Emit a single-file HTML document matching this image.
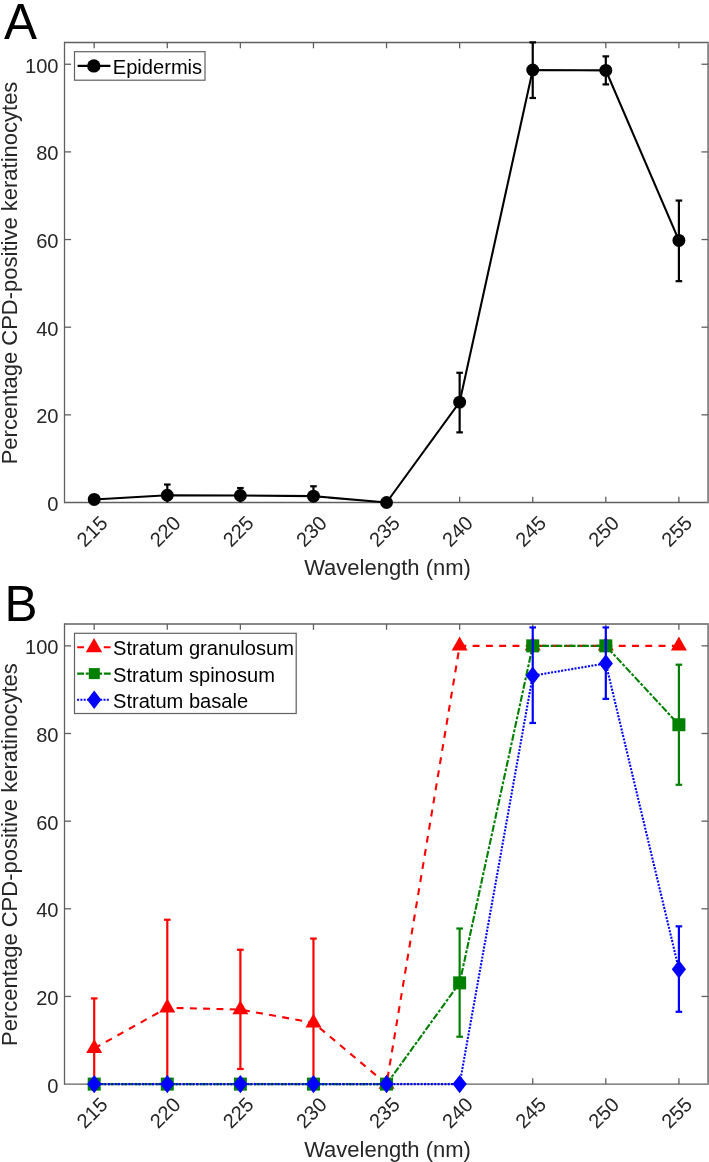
<!DOCTYPE html><html><head><meta charset="utf-8"><style>html,body{margin:0;padding:0;background:#fff;width:709px;height:1162px;overflow:hidden}svg{display:block;will-change:transform;filter:blur(0.3px)}text{font-family:"Liberation Sans",sans-serif;fill:#262626}.t{font-size:20.1px}.l{font-size:22.0px}.p{font-size:49.5px;fill:#000}.k{fill:#000}</style></head><body>
<svg width="709" height="1162" viewBox="0 0 709 1162">
<text x="3.9" y="39.3" class="p">A</text>
<text x="4.6" y="620.6" class="p">B</text>
<line x1="64.5" y1="42.5" x2="708.1" y2="42.5" stroke="#606060" stroke-width="1.3"/>
<line x1="64.5" y1="502.5" x2="708.1" y2="502.5" stroke="#606060" stroke-width="1.3"/>
<line x1="64.5" y1="41.85" x2="64.5" y2="503.15" stroke="#606060" stroke-width="1.3"/>
<line x1="708.1" y1="41.85" x2="708.1" y2="503.15" stroke="#858585" stroke-width="1.8"/>
<line x1="94.20" y1="502.5" x2="94.20" y2="496.7" stroke="#606060" stroke-width="1.3"/>
<line x1="94.20" y1="42.5" x2="94.20" y2="48.3" stroke="#606060" stroke-width="1.3"/>
<line x1="167.29" y1="502.5" x2="167.29" y2="496.7" stroke="#606060" stroke-width="1.3"/>
<line x1="167.29" y1="42.5" x2="167.29" y2="48.3" stroke="#606060" stroke-width="1.3"/>
<line x1="240.38" y1="502.5" x2="240.38" y2="496.7" stroke="#606060" stroke-width="1.3"/>
<line x1="240.38" y1="42.5" x2="240.38" y2="48.3" stroke="#606060" stroke-width="1.3"/>
<line x1="313.46" y1="502.5" x2="313.46" y2="496.7" stroke="#606060" stroke-width="1.3"/>
<line x1="313.46" y1="42.5" x2="313.46" y2="48.3" stroke="#606060" stroke-width="1.3"/>
<line x1="386.55" y1="502.5" x2="386.55" y2="496.7" stroke="#606060" stroke-width="1.3"/>
<line x1="386.55" y1="42.5" x2="386.55" y2="48.3" stroke="#606060" stroke-width="1.3"/>
<line x1="459.64" y1="502.5" x2="459.64" y2="496.7" stroke="#606060" stroke-width="1.3"/>
<line x1="459.64" y1="42.5" x2="459.64" y2="48.3" stroke="#606060" stroke-width="1.3"/>
<line x1="532.73" y1="502.5" x2="532.73" y2="496.7" stroke="#606060" stroke-width="1.3"/>
<line x1="532.73" y1="42.5" x2="532.73" y2="48.3" stroke="#606060" stroke-width="1.3"/>
<line x1="605.81" y1="502.5" x2="605.81" y2="496.7" stroke="#606060" stroke-width="1.3"/>
<line x1="605.81" y1="42.5" x2="605.81" y2="48.3" stroke="#606060" stroke-width="1.3"/>
<line x1="678.90" y1="502.5" x2="678.90" y2="496.7" stroke="#606060" stroke-width="1.3"/>
<line x1="678.90" y1="42.5" x2="678.90" y2="48.3" stroke="#606060" stroke-width="1.3"/>
<line x1="64.5" y1="414.85" x2="71.1" y2="414.85" stroke="#606060" stroke-width="1.3"/>
<line x1="708.1" y1="414.85" x2="701.5" y2="414.85" stroke="#606060" stroke-width="1.3"/>
<line x1="64.5" y1="327.20" x2="71.1" y2="327.20" stroke="#606060" stroke-width="1.3"/>
<line x1="708.1" y1="327.20" x2="701.5" y2="327.20" stroke="#606060" stroke-width="1.3"/>
<line x1="64.5" y1="239.55" x2="71.1" y2="239.55" stroke="#606060" stroke-width="1.3"/>
<line x1="708.1" y1="239.55" x2="701.5" y2="239.55" stroke="#606060" stroke-width="1.3"/>
<line x1="64.5" y1="151.90" x2="71.1" y2="151.90" stroke="#606060" stroke-width="1.3"/>
<line x1="708.1" y1="151.90" x2="701.5" y2="151.90" stroke="#606060" stroke-width="1.3"/>
<line x1="64.5" y1="64.25" x2="71.1" y2="64.25" stroke="#606060" stroke-width="1.3"/>
<line x1="708.1" y1="64.25" x2="701.5" y2="64.25" stroke="#606060" stroke-width="1.3"/>
<text x="58.5" y="511.00" text-anchor="end" class="t">0</text>
<text x="58.5" y="423.35" text-anchor="end" class="t">20</text>
<text x="58.5" y="335.70" text-anchor="end" class="t">40</text>
<text x="58.5" y="248.05" text-anchor="end" class="t">60</text>
<text x="58.5" y="160.40" text-anchor="end" class="t">80</text>
<text x="58.5" y="72.75" text-anchor="end" class="t">100</text>
<text x="0" y="0" text-anchor="end" dy="0.36em" class="t" transform="translate(103.70,519.10) rotate(-45)">215</text>
<text x="0" y="0" text-anchor="end" dy="0.36em" class="t" transform="translate(176.79,519.10) rotate(-45)">220</text>
<text x="0" y="0" text-anchor="end" dy="0.36em" class="t" transform="translate(249.88,519.10) rotate(-45)">225</text>
<text x="0" y="0" text-anchor="end" dy="0.36em" class="t" transform="translate(322.96,519.10) rotate(-45)">230</text>
<text x="0" y="0" text-anchor="end" dy="0.36em" class="t" transform="translate(396.05,519.10) rotate(-45)">235</text>
<text x="0" y="0" text-anchor="end" dy="0.36em" class="t" transform="translate(469.14,519.10) rotate(-45)">240</text>
<text x="0" y="0" text-anchor="end" dy="0.36em" class="t" transform="translate(542.23,519.10) rotate(-45)">245</text>
<text x="0" y="0" text-anchor="end" dy="0.36em" class="t" transform="translate(615.31,519.10) rotate(-45)">250</text>
<text x="0" y="0" text-anchor="end" dy="0.36em" class="t" transform="translate(688.40,519.10) rotate(-45)">255</text>
<text x="387.50" y="575.30" text-anchor="middle" class="l">Wavelength (nm)</text>
<text x="0" y="0" text-anchor="middle" class="l" transform="translate(16.6,273.00) rotate(-90)">Percentage CPD-positive keratinocytes</text>
<line x1="64.5" y1="624.0" x2="708.1" y2="624.0" stroke="#606060" stroke-width="1.3"/>
<line x1="64.5" y1="1084.1" x2="708.1" y2="1084.1" stroke="#606060" stroke-width="1.3"/>
<line x1="64.5" y1="623.35" x2="64.5" y2="1084.75" stroke="#606060" stroke-width="1.3"/>
<line x1="708.1" y1="623.35" x2="708.1" y2="1084.75" stroke="#858585" stroke-width="1.8"/>
<line x1="94.20" y1="1084.1" x2="94.20" y2="1078.3" stroke="#606060" stroke-width="1.3"/>
<line x1="94.20" y1="624.0" x2="94.20" y2="629.8" stroke="#606060" stroke-width="1.3"/>
<line x1="167.29" y1="1084.1" x2="167.29" y2="1078.3" stroke="#606060" stroke-width="1.3"/>
<line x1="167.29" y1="624.0" x2="167.29" y2="629.8" stroke="#606060" stroke-width="1.3"/>
<line x1="240.38" y1="1084.1" x2="240.38" y2="1078.3" stroke="#606060" stroke-width="1.3"/>
<line x1="240.38" y1="624.0" x2="240.38" y2="629.8" stroke="#606060" stroke-width="1.3"/>
<line x1="313.46" y1="1084.1" x2="313.46" y2="1078.3" stroke="#606060" stroke-width="1.3"/>
<line x1="313.46" y1="624.0" x2="313.46" y2="629.8" stroke="#606060" stroke-width="1.3"/>
<line x1="386.55" y1="1084.1" x2="386.55" y2="1078.3" stroke="#606060" stroke-width="1.3"/>
<line x1="386.55" y1="624.0" x2="386.55" y2="629.8" stroke="#606060" stroke-width="1.3"/>
<line x1="459.64" y1="1084.1" x2="459.64" y2="1078.3" stroke="#606060" stroke-width="1.3"/>
<line x1="459.64" y1="624.0" x2="459.64" y2="629.8" stroke="#606060" stroke-width="1.3"/>
<line x1="532.73" y1="1084.1" x2="532.73" y2="1078.3" stroke="#606060" stroke-width="1.3"/>
<line x1="532.73" y1="624.0" x2="532.73" y2="629.8" stroke="#606060" stroke-width="1.3"/>
<line x1="605.81" y1="1084.1" x2="605.81" y2="1078.3" stroke="#606060" stroke-width="1.3"/>
<line x1="605.81" y1="624.0" x2="605.81" y2="629.8" stroke="#606060" stroke-width="1.3"/>
<line x1="678.90" y1="1084.1" x2="678.90" y2="1078.3" stroke="#606060" stroke-width="1.3"/>
<line x1="678.90" y1="624.0" x2="678.90" y2="629.8" stroke="#606060" stroke-width="1.3"/>
<line x1="64.5" y1="996.45" x2="71.1" y2="996.45" stroke="#606060" stroke-width="1.3"/>
<line x1="708.1" y1="996.45" x2="701.5" y2="996.45" stroke="#606060" stroke-width="1.3"/>
<line x1="64.5" y1="908.80" x2="71.1" y2="908.80" stroke="#606060" stroke-width="1.3"/>
<line x1="708.1" y1="908.80" x2="701.5" y2="908.80" stroke="#606060" stroke-width="1.3"/>
<line x1="64.5" y1="821.15" x2="71.1" y2="821.15" stroke="#606060" stroke-width="1.3"/>
<line x1="708.1" y1="821.15" x2="701.5" y2="821.15" stroke="#606060" stroke-width="1.3"/>
<line x1="64.5" y1="733.50" x2="71.1" y2="733.50" stroke="#606060" stroke-width="1.3"/>
<line x1="708.1" y1="733.50" x2="701.5" y2="733.50" stroke="#606060" stroke-width="1.3"/>
<line x1="64.5" y1="645.85" x2="71.1" y2="645.85" stroke="#606060" stroke-width="1.3"/>
<line x1="708.1" y1="645.85" x2="701.5" y2="645.85" stroke="#606060" stroke-width="1.3"/>
<text x="58.5" y="1092.60" text-anchor="end" class="t">0</text>
<text x="58.5" y="1004.95" text-anchor="end" class="t">20</text>
<text x="58.5" y="917.30" text-anchor="end" class="t">40</text>
<text x="58.5" y="829.65" text-anchor="end" class="t">60</text>
<text x="58.5" y="742.00" text-anchor="end" class="t">80</text>
<text x="58.5" y="654.35" text-anchor="end" class="t">100</text>
<text x="0" y="0" text-anchor="end" dy="0.36em" class="t" transform="translate(103.70,1100.70) rotate(-45)">215</text>
<text x="0" y="0" text-anchor="end" dy="0.36em" class="t" transform="translate(176.79,1100.70) rotate(-45)">220</text>
<text x="0" y="0" text-anchor="end" dy="0.36em" class="t" transform="translate(249.88,1100.70) rotate(-45)">225</text>
<text x="0" y="0" text-anchor="end" dy="0.36em" class="t" transform="translate(322.96,1100.70) rotate(-45)">230</text>
<text x="0" y="0" text-anchor="end" dy="0.36em" class="t" transform="translate(396.05,1100.70) rotate(-45)">235</text>
<text x="0" y="0" text-anchor="end" dy="0.36em" class="t" transform="translate(469.14,1100.70) rotate(-45)">240</text>
<text x="0" y="0" text-anchor="end" dy="0.36em" class="t" transform="translate(542.23,1100.70) rotate(-45)">245</text>
<text x="0" y="0" text-anchor="end" dy="0.36em" class="t" transform="translate(615.31,1100.70) rotate(-45)">250</text>
<text x="0" y="0" text-anchor="end" dy="0.36em" class="t" transform="translate(688.40,1100.70) rotate(-45)">255</text>
<text x="387.50" y="1156.90" text-anchor="middle" class="l">Wavelength (nm)</text>
<text x="0" y="0" text-anchor="middle" class="l" transform="translate(16.6,854.55) rotate(-90)">Percentage CPD-positive keratinocytes</text>
<polyline points="94.20,499.43 167.29,495.31 240.38,495.49 313.46,496.15 386.55,502.50 459.64,402.14 532.73,69.95 605.81,70.39 678.90,240.43" fill="none" stroke="#000" stroke-width="2.1"/>
<line x1="167.29" y1="484.53" x2="167.29" y2="502.50" stroke="#000" stroke-width="2.2"/>
<line x1="163.99" y1="484.53" x2="170.59" y2="484.53" stroke="#000" stroke-width="2.2"/>
<line x1="240.38" y1="488.04" x2="240.38" y2="502.50" stroke="#000" stroke-width="2.2"/>
<line x1="237.07" y1="488.04" x2="243.68" y2="488.04" stroke="#000" stroke-width="2.2"/>
<line x1="313.46" y1="486.28" x2="313.46" y2="502.50" stroke="#000" stroke-width="2.2"/>
<line x1="310.16" y1="486.28" x2="316.76" y2="486.28" stroke="#000" stroke-width="2.2"/>
<line x1="459.64" y1="372.78" x2="459.64" y2="432.38" stroke="#000" stroke-width="2.2"/>
<line x1="456.34" y1="372.78" x2="462.94" y2="372.78" stroke="#000" stroke-width="2.2"/>
<line x1="456.34" y1="432.38" x2="462.94" y2="432.38" stroke="#000" stroke-width="2.2"/>
<line x1="532.73" y1="42.50" x2="532.73" y2="98.00" stroke="#000" stroke-width="2.2"/>
<line x1="529.43" y1="42.34" x2="536.02" y2="42.34" stroke="#000" stroke-width="2.2"/>
<line x1="529.43" y1="98.00" x2="536.02" y2="98.00" stroke="#000" stroke-width="2.2"/>
<line x1="605.81" y1="56.36" x2="605.81" y2="84.41" stroke="#000" stroke-width="2.2"/>
<line x1="602.51" y1="56.36" x2="609.11" y2="56.36" stroke="#000" stroke-width="2.2"/>
<line x1="602.51" y1="84.41" x2="609.11" y2="84.41" stroke="#000" stroke-width="2.2"/>
<line x1="678.90" y1="200.55" x2="678.90" y2="281.18" stroke="#000" stroke-width="2.2"/>
<line x1="675.60" y1="200.55" x2="682.20" y2="200.55" stroke="#000" stroke-width="2.2"/>
<line x1="675.60" y1="281.18" x2="682.20" y2="281.18" stroke="#000" stroke-width="2.2"/>
<circle cx="94.20" cy="499.43" r="6.45" fill="#000"/>
<circle cx="167.29" cy="495.31" r="6.45" fill="#000"/>
<circle cx="240.38" cy="495.49" r="6.45" fill="#000"/>
<circle cx="313.46" cy="496.15" r="6.45" fill="#000"/>
<circle cx="386.55" cy="502.50" r="6.45" fill="#000"/>
<circle cx="459.64" cy="402.14" r="6.45" fill="#000"/>
<circle cx="532.73" cy="69.95" r="6.45" fill="#000"/>
<circle cx="605.81" cy="70.39" r="6.45" fill="#000"/>
<circle cx="678.90" cy="240.43" r="6.45" fill="#000"/>
<polyline points="94.20,1048.38 167.29,1007.71 240.38,1009.60 313.46,1022.74 386.55,1084.10 459.64,645.85 532.73,645.85 605.81,645.85 678.90,645.85" fill="none" stroke="#ff0000" stroke-width="2.1" stroke-dasharray="6.9 6.384"/>
<line x1="94.20" y1="998.42" x2="94.20" y2="1084.10" stroke="#ff0000" stroke-width="2.2"/>
<line x1="90.90" y1="998.42" x2="97.50" y2="998.42" stroke="#ff0000" stroke-width="2.2"/>
<line x1="167.29" y1="919.76" x2="167.29" y2="1084.10" stroke="#ff0000" stroke-width="2.2"/>
<line x1="163.99" y1="919.76" x2="170.59" y2="919.76" stroke="#ff0000" stroke-width="2.2"/>
<line x1="240.38" y1="949.78" x2="240.38" y2="1068.98" stroke="#ff0000" stroke-width="2.2"/>
<line x1="237.07" y1="949.78" x2="243.68" y2="949.78" stroke="#ff0000" stroke-width="2.2"/>
<line x1="237.07" y1="1068.98" x2="243.68" y2="1068.98" stroke="#ff0000" stroke-width="2.2"/>
<line x1="313.46" y1="938.60" x2="313.46" y2="1084.10" stroke="#ff0000" stroke-width="2.2"/>
<line x1="310.16" y1="938.60" x2="316.76" y2="938.60" stroke="#ff0000" stroke-width="2.2"/>
<polygon points="94.20,1039.05 86.20,1053.05 102.20,1053.05" fill="#ff0000"/>
<polygon points="167.29,998.38 159.29,1012.38 175.29,1012.38" fill="#ff0000"/>
<polygon points="240.38,1000.26 232.38,1014.26 248.38,1014.26" fill="#ff0000"/>
<polygon points="313.46,1013.41 305.46,1027.41 321.46,1027.41" fill="#ff0000"/>
<polygon points="386.55,1074.77 378.55,1088.77 394.55,1088.77" fill="#ff0000"/>
<polygon points="459.64,636.52 451.64,650.52 467.64,650.52" fill="#ff0000"/>
<polygon points="532.73,636.52 524.73,650.52 540.73,650.52" fill="#ff0000"/>
<polygon points="605.81,636.52 597.81,650.52 613.81,650.52" fill="#ff0000"/>
<polygon points="678.90,636.52 670.90,650.52 686.90,650.52" fill="#ff0000"/>
<polyline points="94.20,1084.10 167.29,1084.10 240.38,1084.10 313.46,1084.10 386.55,1084.10 459.64,982.86 532.73,645.85 605.81,645.85 678.90,724.73" fill="none" stroke="#008000" stroke-width="2.1" stroke-dasharray="6.9 1.7 3 1.7"/>
<line x1="459.64" y1="928.52" x2="459.64" y2="1036.77" stroke="#008000" stroke-width="2.2"/>
<line x1="456.34" y1="928.52" x2="462.94" y2="928.52" stroke="#008000" stroke-width="2.2"/>
<line x1="456.34" y1="1036.77" x2="462.94" y2="1036.77" stroke="#008000" stroke-width="2.2"/>
<line x1="678.90" y1="664.69" x2="678.90" y2="784.78" stroke="#008000" stroke-width="2.2"/>
<line x1="675.60" y1="664.69" x2="682.20" y2="664.69" stroke="#008000" stroke-width="2.2"/>
<line x1="675.60" y1="784.78" x2="682.20" y2="784.78" stroke="#008000" stroke-width="2.2"/>
<rect x="87.70" y="1077.60" width="13" height="13" fill="#008000"/>
<rect x="160.79" y="1077.60" width="13" height="13" fill="#008000"/>
<rect x="233.88" y="1077.60" width="13" height="13" fill="#008000"/>
<rect x="306.96" y="1077.60" width="13" height="13" fill="#008000"/>
<rect x="380.05" y="1077.60" width="13" height="13" fill="#008000"/>
<rect x="453.14" y="976.36" width="13" height="13" fill="#008000"/>
<rect x="526.23" y="639.35" width="13" height="13" fill="#008000"/>
<rect x="599.31" y="639.35" width="13" height="13" fill="#008000"/>
<rect x="672.40" y="718.23" width="13" height="13" fill="#008000"/>
<polyline points="94.20,1084.10 167.29,1084.10 240.38,1084.10 313.46,1084.10 386.55,1084.10 459.64,1084.10 532.73,675.65 605.81,663.38 678.90,969.28" fill="none" stroke="#0000ff" stroke-width="2.1" stroke-dasharray="2 1.4"/>
<line x1="532.73" y1="627.44" x2="532.73" y2="722.98" stroke="#0000ff" stroke-width="2.2"/>
<line x1="529.43" y1="627.44" x2="536.02" y2="627.44" stroke="#0000ff" stroke-width="2.2"/>
<line x1="529.43" y1="722.98" x2="536.02" y2="722.98" stroke="#0000ff" stroke-width="2.2"/>
<line x1="605.81" y1="627.44" x2="605.81" y2="698.88" stroke="#0000ff" stroke-width="2.2"/>
<line x1="602.51" y1="627.44" x2="609.11" y2="627.44" stroke="#0000ff" stroke-width="2.2"/>
<line x1="602.51" y1="698.88" x2="609.11" y2="698.88" stroke="#0000ff" stroke-width="2.2"/>
<line x1="678.90" y1="926.33" x2="678.90" y2="1011.79" stroke="#0000ff" stroke-width="2.2"/>
<line x1="675.60" y1="926.33" x2="682.20" y2="926.33" stroke="#0000ff" stroke-width="2.2"/>
<line x1="675.60" y1="1011.79" x2="682.20" y2="1011.79" stroke="#0000ff" stroke-width="2.2"/>
<polygon points="94.20,1074.90 101.30,1084.10 94.20,1093.30 87.10,1084.10" fill="#0000ff"/>
<polygon points="167.29,1074.90 174.39,1084.10 167.29,1093.30 160.19,1084.10" fill="#0000ff"/>
<polygon points="240.38,1074.90 247.47,1084.10 240.38,1093.30 233.28,1084.10" fill="#0000ff"/>
<polygon points="313.46,1074.90 320.56,1084.10 313.46,1093.30 306.36,1084.10" fill="#0000ff"/>
<polygon points="386.55,1074.90 393.65,1084.10 386.55,1093.30 379.45,1084.10" fill="#0000ff"/>
<polygon points="459.64,1074.90 466.74,1084.10 459.64,1093.30 452.54,1084.10" fill="#0000ff"/>
<polygon points="532.73,666.45 539.83,675.65 532.73,684.85 525.62,675.65" fill="#0000ff"/>
<polygon points="605.81,654.18 612.91,663.38 605.81,672.58 598.71,663.38" fill="#0000ff"/>
<polygon points="678.90,960.08 686.00,969.28 678.90,978.48 671.80,969.28" fill="#0000ff"/>
<rect x="74.5" y="51.7" width="130.5" height="28.5" fill="#fff" stroke="#606060" stroke-width="1.2"/>
<line x1="77.6" y1="65.9" x2="110.4" y2="65.9" stroke="#000" stroke-width="2.1"/>
<circle cx="93.80" cy="65.90" r="6.7" fill="#000"/>
<text x="112.8" y="73.9" class="t k">Epidermis</text>
<rect x="74.5" y="633.3" width="221.7" height="80.2" fill="#fff" stroke="#606060" stroke-width="1.2"/>
<line x1="77.2" y1="647.3" x2="110.9" y2="647.3" stroke="#ff0000" stroke-width="2.1" stroke-dasharray="6.8 19.8"/>
<polygon points="94.00,637.90 85.80,652.30 102.20,652.30" fill="#ff0000"/>
<line x1="77.2" y1="673.6" x2="111" y2="673.6" stroke="#008000" stroke-width="2.1" stroke-dasharray="6.9 1.7 3 1.7"/>
<rect x="88.80" y="668.10" width="11" height="11" fill="#008000"/>
<line x1="77.1" y1="699.7" x2="109" y2="699.7" stroke="#0000ff" stroke-width="2.1" stroke-dasharray="2 1.3"/>
<polygon points="94.20,690.40 101.30,699.70 94.20,709.00 87.10,699.70" fill="#0000ff"/>
<text x="113.0" y="655.30" class="t k">Stratum granulosum</text>
<text x="113.0" y="681.60" class="t k">Stratum spinosum</text>
<text x="113.0" y="707.70" class="t k">Stratum basale</text>
</svg></body></html>
